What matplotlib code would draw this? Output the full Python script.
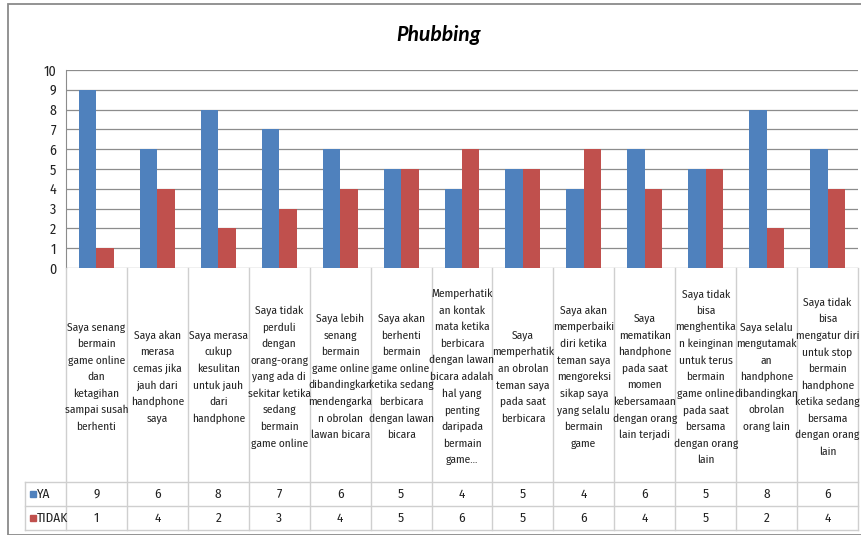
import numpy as np
import matplotlib
matplotlib.use("Agg")
import matplotlib.pyplot as plt
from matplotlib.patches import Rectangle

plt.rcParams['font.family'] = ['Fira Sans Condensed', 'DejaVu Sans']

# data
categories = [
    "Saya senang\nbermain\ngame online\ndan\nketagihan\nsampai susah\nberhenti",
    "Saya akan\nmerasa\ncemas jika\njauh dari\nhandphone\nsaya",
    "Saya merasa\ncukup\nkesulitan\nuntuk jauh\ndari\nhandphone",
    "Saya tidak\nperduli\ndengan\norang-orang\nyang ada di\nsekitar ketika\nsedang\nbermain\ngame online",
    "Saya lebih\nsenang\nbermain\ngame online\ndibandingkan\nmendengarka\nn obrolan\nlawan bicara",
    "Saya akan\nberhenti\nbermain\ngame online\nketika sedang\nberbicara\ndengan lawan\nbicara",
    "Memperhatik\nan kontak\nmata ketika\nberbicara\ndengan lawan\nbicara adalah\nhal yang\npenting\ndaripada\nbermain\ngame...",
    "Saya\nmemperhatik\nan obrolan\nteman saya\npada saat\nberbicara",
    "Saya akan\nmemperbaiki\ndiri ketika\nteman saya\nmengoreksi\nsikap saya\nyang selalu\nbermain\ngame",
    "Saya\nmematikan\nhandphone\npada saat\nmomen\nkebersamaan\ndengan orang\nlain terjadi",
    "Saya tidak\nbisa\nmenghentika\nn keinginan\nuntuk terus\nbermain\ngame online\npada saat\nbersama\ndengan orang\nlain",
    "Saya selalu\nmengutamak\nan\nhandphone\ndibandingkan\nobrolan\norang lain",
    "Saya tidak\nbisa\nmengatur diri\nuntuk stop\nbermain\nhandphone\nketika sedang\nbersama\ndengan orang\nlain",
]
ya = [9, 6, 8, 7, 6, 5, 4, 5, 4, 6, 5, 8, 6]
tidak = [1, 4, 2, 3, 4, 5, 6, 5, 6, 4, 5, 2, 4]
series_names = ["YA", "TIDAK"]
colors = ["#4F81BD", "#C0504D"]

W, H = 862, 535
x_left, x_right = 66, 858
y_top, y_zero = 70, 268
row_lines = [482, 506, 530]
grid_col = "#8c8c8c"
tab_col = "#cfcfcf"

fig = plt.figure(figsize=(W / 100, H / 100), dpi=100)

# chart border (top and left visible only)
fig.add_artist(Rectangle((8 / W, 0), 1.0, 1 - 4 / H, transform=fig.transFigure,
                         fill=False, edgecolor="#8a8a8a", lw=1.3))

fig.text(439 / W, 1 - 35 / H, "Phubbing", ha="center", va="center",
         fontsize=15.5, fontweight="bold", fontstyle="italic",
         family=["Carlito", "DejaVu Sans"])

ax = fig.add_axes([x_left / W, 1 - y_zero / H, (x_right - x_left) / W, (y_zero - y_top) / H])
x = np.arange(len(categories))
bw = 0.287
ax.bar(x - bw / 2, ya, bw, color=colors[0], zorder=3)
ax.bar(x + bw / 2, tidak, bw, color=colors[1], zorder=3)
ax.set_xlim(-0.5, len(categories) - 0.5)
ax.set_ylim(0, 10)
ax.set_yticks(range(11))
ax.set_xticks([])
ax.yaxis.grid(True, color=grid_col, lw=0.9)
ax.set_axisbelow(True)
for s in ["top", "right", "bottom"]:
    ax.spines[s].set_visible(False)
ax.spines["left"].set_color(grid_col)
ax.tick_params(axis="y", length=0, pad=7, labelsize=10, labelcolor="#222222")

# data table below the plot
tax = fig.add_axes([x_left / W, 1 - row_lines[-1] / H, (x_right - x_left) / W,
                    (row_lines[-1] - y_zero) / H])
tax.set_xlim(-0.5, len(categories) - 0.5)
tax.set_ylim(row_lines[-1], y_zero)
tax.axis("off")
colw = (x_right - x_left) / len(categories)


def px2x(px):
    return (px - x_left) / colw - 0.5


for b in np.arange(-0.5, len(categories)):
    tax.plot([b, b], [y_zero, row_lines[-1]], color=tab_col, lw=1, clip_on=False)
for r in row_lines:
    tax.plot([px2x(25), len(categories) - 0.5], [r, r], color=tab_col, lw=1, clip_on=False)
tax.plot([px2x(25), px2x(25)], [row_lines[0], row_lines[-1]], color=tab_col, lw=1, clip_on=False)

for i, lab in enumerate(categories):
    tax.text(i, 377, lab, ha="center", va="center", color="#222222",
             fontsize=8.2, linespacing=1.7, clip_on=False)

for k, vals in enumerate([ya, tidak]):
    yc = (row_lines[k] + row_lines[k + 1]) / 2
    tax.plot(px2x(33), yc, marker="s", ms=4.5, color=colors[k], clip_on=False)
    tax.text(px2x(37), yc, series_names[k], ha="left", va="center", fontsize=9.5,
             color="#222222", clip_on=False)
    for i, v in enumerate(vals):
        tax.text(i, yc, str(v), ha="center", va="center", fontsize=9.5,
                 color="#222222", clip_on=False)

fig.savefig("out.png", dpi=100)
